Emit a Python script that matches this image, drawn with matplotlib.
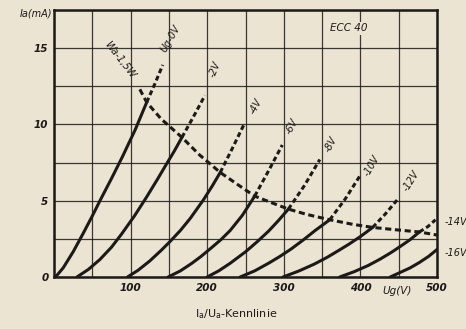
import matplotlib
matplotlib.use('Agg')
import matplotlib.pyplot as plt

# ECC40 anode characteristics
grid_volts = ['Ug-0V', '-2V', '-4V', '-6V', '-8V', '-10V', '-12V', '-14V', '-16V']

# solid part (below the 1.5 W dissipation line)
solid_ua = [
    [2, 12, 25, 38, 50, 60, 75, 89, 106, 121],
    [30, 45, 60, 75, 88, 105, 121, 135, 145, 157, 167],
    [96, 110, 125, 140, 151, 165, 178, 195, 207, 217],
    [149, 165, 180, 192, 204, 218, 230, 246, 262],
    [200, 215, 230, 250, 265, 280, 293, 306],
    [243, 262, 280, 295, 310, 326, 341, 360],
    [299, 320, 340, 357, 372, 385, 400, 416],
    [373, 392, 410, 425, 440, 452, 465, 477],
    [439, 452, 465, 477, 489, 500],
]
solid_ia = [
    [0.0, 0.6, 1.65, 2.85, 4.0, 5.0, 6.45, 7.85, 9.65, 11.45],
    [0.0, 0.5, 1.15, 1.95, 2.8, 4.0, 5.25, 6.4, 7.25, 8.25, 9.15],
    [0.0, 0.45, 1.05, 1.75, 2.3, 3.05, 3.85, 5.05, 6.0, 6.85],
    [0.0, 0.4, 0.9, 1.35, 1.85, 2.45, 3.05, 4.05, 5.3],
    [0.0, 0.4, 0.9, 1.65, 2.3, 3.0, 3.7, 4.45],
    [0.0, 0.4, 0.9, 1.35, 1.85, 2.45, 3.05, 3.75],
    [0.0, 0.4, 0.85, 1.3, 1.75, 2.15, 2.65, 3.25],
    [0.0, 0.35, 0.75, 1.15, 1.6, 2.0, 2.45, 2.95],
    [0.0, 0.3, 0.6, 0.95, 1.35, 1.8],
]

# dashed continuation above the dissipation line
dash_ua = [
    [121, 132, 142],
    [167, 182, 197],
    [217, 233, 249],
    [262, 280, 298],
    [306, 327, 347],
    [360, 380, 399],
    [416, 432, 448],
    [477, 488, 498],
    [],
]
dash_ia = [
    [11.45, 12.7, 13.9],
    [9.15, 10.5, 11.9],
    [6.85, 8.45, 10.1],
    [5.3, 6.95, 8.65],
    [4.45, 6.0, 7.7],
    [3.75, 5.1, 6.6],
    [3.25, 4.1, 5.05],
    [2.95, 3.3, 3.75],
    [],
]

# Wa = 1.5 W line
hyp_ua = [112, 121, 140, 167, 190, 217, 240, 262, 285, 306, 330, 360, 390, 416, 445, 477, 500]
hyp_ia = [12.3, 11.45, 10.35, 9.15, 8.0, 6.85, 6.05, 5.3, 4.85, 4.45, 4.1, 3.75, 3.45, 3.25, 3.1, 2.95, 2.75]

# label positions (data coords) and angle for each curve label
label_x = [152, 210, 264, 311, 361, 415, 466, 510, 510]
label_y = [15.6, 13.6, 11.2, 9.9, 8.7, 7.3, 6.3, 3.6, 1.6]
label_rot = [60, 68, 62, 62, 62, 60, 58, 0, 0]

paper = '#ebe4d2'
ink = '#1c1a18'

fig = plt.figure(figsize=(4.66, 3.29), dpi=100, facecolor=paper)
ax = fig.add_axes([0.1159, 0.1581, 0.8219, 0.8116], facecolor=paper)

ax.set_xlim(0, 500)
ax.set_ylim(0, 17.5)

ax.set_xticks(range(0, 501, 50))
ax.set_xticklabels(['', '', '100', '', '200', '', '300', '', '400', '', '500'])
ax.set_yticks([i * 2.5 for i in range(8)])
ax.set_yticklabels(['0', '', '5', '', '10', '', '15', ''])
ax.tick_params(length=0, colors=ink, labelsize=7.5, pad=4)
for lab in ax.get_xticklabels() + ax.get_yticklabels():
    lab.set_fontstyle('italic')
    lab.set_fontweight('bold')
ax.grid(True, color=ink, lw=0.9, alpha=0.85)
for sp in ax.spines.values():
    sp.set_linewidth(1.8)
    sp.set_color(ink)

for i in range(len(grid_volts)):
    ax.plot(solid_ua[i], solid_ia[i], color=ink, lw=2.2, solid_capstyle='round',
            solid_joinstyle='round')
    if dash_ua[i]:
        ax.plot(dash_ua[i], dash_ia[i], color=ink, lw=2.2, linestyle=(0, (1.6, 1.0)))
    ha = 'left' if label_rot[i] == 0 else 'center'
    ax.text(label_x[i], label_y[i], grid_volts[i], rotation=label_rot[i], fontsize=7,
            fontstyle='italic', color=ink, ha=ha, va='center', clip_on=False,
            rotation_mode='anchor')

ax.plot(hyp_ua, hyp_ia, color=ink, lw=2.2, linestyle=(0, (2.0, 1.2)))
ax.text(86, 14.2, 'Wa-1,5W', rotation=-52, fontsize=7, fontstyle='italic',
        color=ink, ha='center', va='center', rotation_mode='anchor')

ax.text(385, 16.3, 'ECC 40', fontsize=7.5, fontstyle='italic', color=ink,
        ha='center', va='center', bbox=dict(facecolor=paper, edgecolor='none', pad=1))
ax.text(-2, 17.3, 'Ia(mA)', fontsize=7, fontstyle='italic', color=ink,
        ha='right', va='center')
ax.text(448, -0.95, 'Ug(V)', fontsize=7.5, fontstyle='italic', color=ink,
        ha='center', va='center', clip_on=False)

fig.text(0.507, 0.045, r'I$_\mathregular{a}$/U$_\mathregular{a}$-Kennlinie',
         fontsize=8, color=ink, ha='center', va='center')

fig.savefig('out.png', dpi=100, facecolor=paper)
